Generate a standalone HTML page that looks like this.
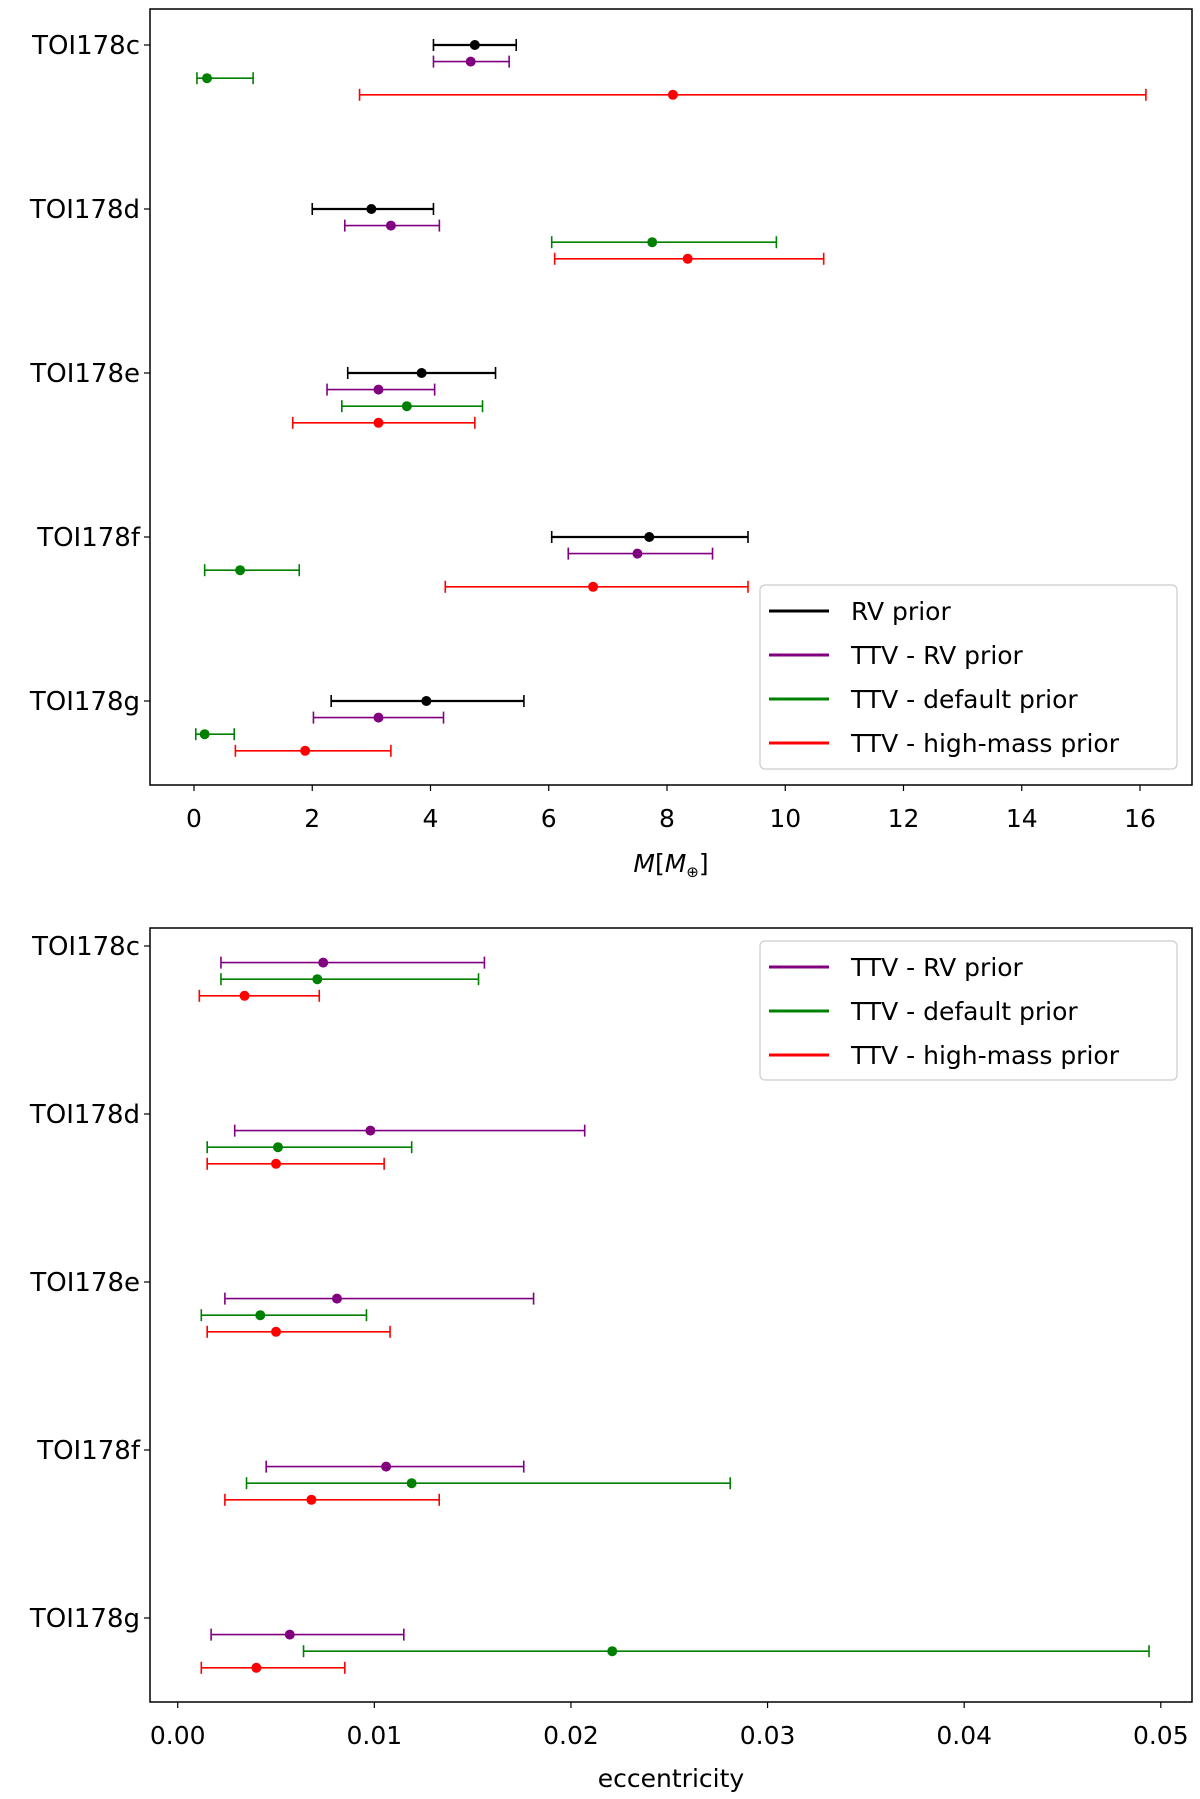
<!DOCTYPE html>
<html><head><meta charset="utf-8"><style>
html,body{margin:0;padding:0;background:#fff;}
svg{display:block;font-family:"DejaVu Sans","Liberation Sans",sans-serif;}
</style></head><body>
<svg id="fig" width="1200" height="1799" viewBox="0 0 1200 1799" xmlns="http://www.w3.org/2000/svg"></svg>
<script>
const planets = ["TOI178c","TOI178d","TOI178e","TOI178f","TOI178g"];
const seriesNames = ["RV prior","TTV - RV prior","TTV - default prior","TTV - high-mass prior"];
const seriesColors = ["#000000","#800080","#008000","#ff0000"];
// mass: [value, lo, hi] per planet
const massRV = [[4.75,4.05,5.45],[3.0,2.0,4.05],[3.85,2.6,5.1],[7.7,6.05,9.37],[3.93,2.32,5.58]];
const massTTVRV = [[4.68,4.05,5.33],[3.33,2.55,4.15],[3.12,2.25,4.07],[7.5,6.33,8.77],[3.12,2.02,4.22]];
const massDefault = [[0.22,0.05,1.0],[7.75,6.05,9.85],[3.6,2.5,4.88],[0.78,0.18,1.78],[0.18,0.03,0.68]];
const massHigh = [[8.1,2.8,16.1],[8.35,6.1,10.65],[3.12,1.67,4.75],[6.75,4.25,9.37],[1.88,0.7,3.33]];
const massTicks = [0,2,4,6,8,10,12,14,16];
const eccTTVRV = [[0.0074,0.0022,0.0156],[0.0098,0.0029,0.0207],[0.0081,0.0024,0.0181],[0.0106,0.0045,0.0176],[0.0057,0.0017,0.0115]];
const eccDefault = [[0.0071,0.0022,0.0153],[0.0051,0.0015,0.0119],[0.0042,0.0012,0.0096],[0.0119,0.0035,0.0281],[0.0221,0.0064,0.0494]];
const eccHigh = [[0.0034,0.0011,0.0072],[0.0050,0.0015,0.0105],[0.0050,0.0015,0.0108],[0.0068,0.0024,0.0133],[0.0040,0.0012,0.0085]];
const eccTicks = ["0.00","0.01","0.02","0.03","0.04","0.05"];

const svg=document.getElementById('fig');
const NS="http://www.w3.org/2000/svg";
function mk(tag,attrs,parent){const e=document.createElementNS(NS,tag);for(const k in attrs)e.setAttribute(k,attrs[k]);(parent||svg).appendChild(e);return e;}

function panel(cfg){
  const g=mk('g',{});
  
  
  const L=150,R=1192,T=cfg.top,B=cfg.bottom;
  const xs=v=>cfg.x0+(v-cfg.v0)*(cfg.x1-cfg.x0)/(cfg.v1-cfg.v0);
  const ys=(i,s)=>cfg.y0+i*cfg.ystep+s*16.6;
  planets.forEach((p,i)=>{
    const y=cfg.y0+i*cfg.ystep;
    const t=mk('line',{x1:L-6,x2:L,y1:y,y2:y,stroke:'#000','stroke-width':1.2},g);
    
    const tx=mk('text',{x:L-10,y:y+9,'text-anchor':'end','font-size':26,fill:'#000'},g);
    tx.textContent=p;
    
  });
  cfg.ticks.forEach(tk=>{
    const x=xs(parseFloat(tk));
    const t=mk('line',{x1:x,x2:x,y1:B,y2:B+6,stroke:'#000','stroke-width':1.2},g);
    
    const tx=mk('text',{x:x,y:B+42,'text-anchor':'middle','font-size':25,fill:'#000'},g);
    tx.textContent=tk;
    
  });
  cfg.series.forEach(([si,data])=>{
    data.forEach((d,i)=>{
      const y=ys(i,si),c=seriesColors[si],w=si==0?2.2:1.6;
      const eg=mk('g',{},g);
      
      
      mk('line',{x1:xs(d[1]),x2:xs(d[2]),y1:y,y2:y,stroke:c,'stroke-width':w},eg);
      mk('line',{x1:xs(d[1]),x2:xs(d[1]),y1:y-6,y2:y+6,stroke:c,'stroke-width':1.6},eg);
      mk('line',{x1:xs(d[2]),x2:xs(d[2]),y1:y-6,y2:y+6,stroke:c,'stroke-width':1.6},eg);
      mk('circle',{cx:xs(d[0]),cy:y,r:5,fill:c},eg);
    });
  });
  const fr=mk('rect',{x:L,y:T,width:R-L,height:B-T,fill:'none',stroke:'#000','stroke-width':1.5},g);
  
  const xl=mk('text',{x:671,y:cfg.xlabelY,'text-anchor':'middle','font-size':25,fill:'#000'},g);
  xl.innerHTML=cfg.xlabel;
  
  const lg=mk('g',{},g);
  
  mk('rect',{x:760,y:cfg.legTop,width:417,height:cfg.legH,rx:5,fill:'#fff','fill-opacity':0.8,stroke:'#ccc','stroke-width':1.2},lg);
  cfg.series.forEach(([si],k)=>{
    const y=cfg.legY0+k*cfg.legStep;
    const eg=mk('g',{},lg);
    
    mk('line',{x1:769,x2:829,y1:y,y2:y,stroke:seriesColors[si],'stroke-width':3},eg);
    const t=mk('text',{x:851,y:y+9,'font-size':25,fill:'#000'},eg);
    t.textContent=seriesNames[si];
  });
}
panel({name:'mass-panel',top:9,bottom:785,x0:194,x1:1140,v0:0,v1:16,y0:45,ystep:164,ticks:massTicks.map(String),
  series:[[0,massRV],[1,massTTVRV],[2,massDefault],[3,massHigh]],
  xlabel:'<tspan font-style="italic">M</tspan>[<tspan font-style="italic">M</tspan><tspan font-size="15" dy="5">⊕</tspan><tspan dy="-5">]</tspan>',
  xlabelY:872,legTop:585,legH:184,legY0:611,legStep:44});
panel({name:'eccentricity-panel',top:928,bottom:1702,x0:177.7,x1:1160.8,v0:0,v1:0.05,y0:946,ystep:168,ticks:eccTicks,
  series:[[1,eccTTVRV],[2,eccDefault],[3,eccHigh]],
  xlabel:'eccentricity',xlabelY:1787,legTop:941,legH:139,legY0:967,legStep:44});
</script>
</body></html>
